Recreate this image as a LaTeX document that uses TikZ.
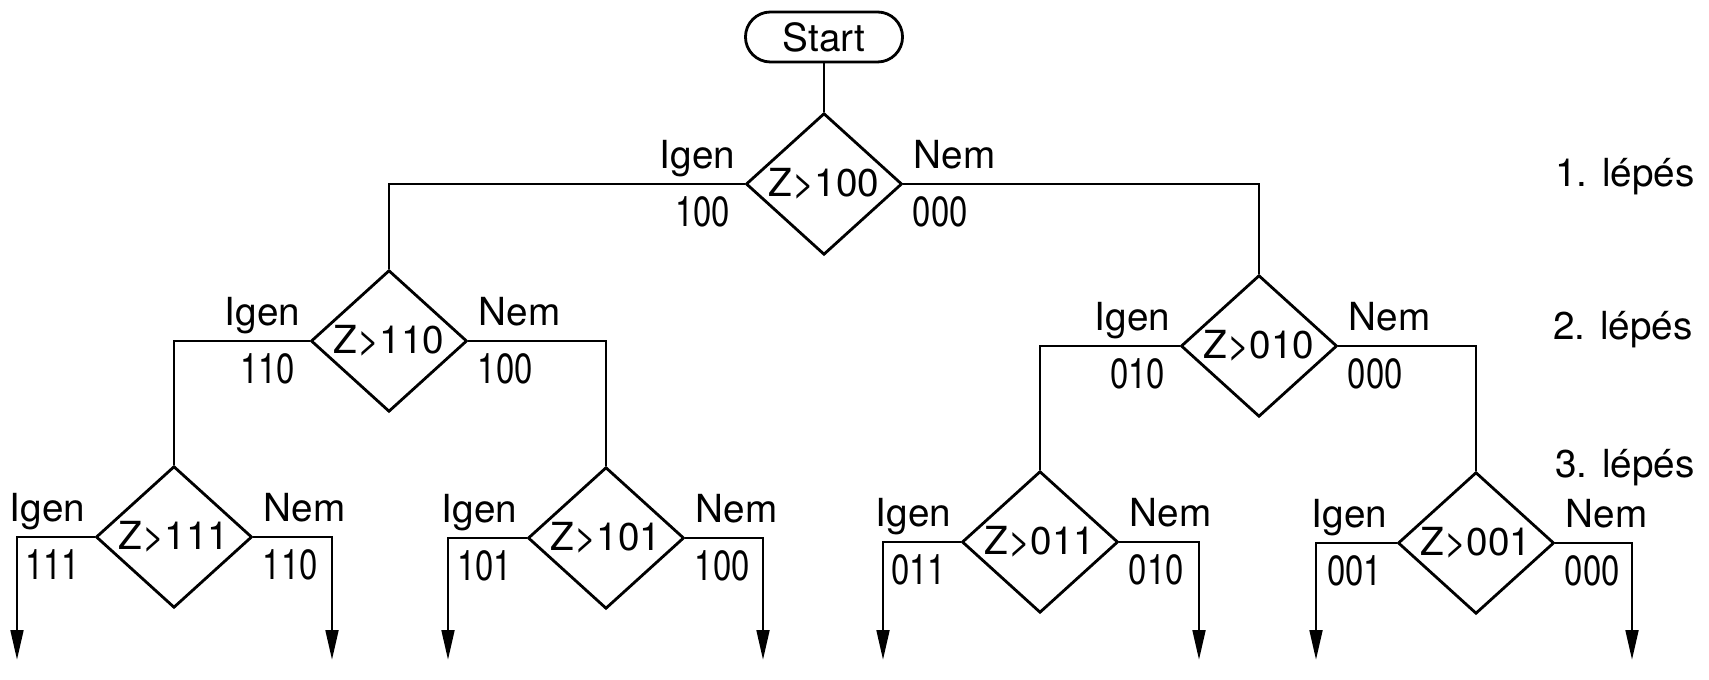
\documentclass[tikz,border=0pt]{standalone}
\usepackage{fontspec}
\setmainfont{TeX Gyre Heros}
\newfontfamily\codefont[FakeStretch=0.78]{TeX Gyre Heros}
\usetikzlibrary{shapes.geometric, arrows.meta}

\begin{document}
\begin{tikzpicture}[x=0.01cm, y=-0.01cm, line width=0.8pt,
        font=\fontsize{11}{13}\selectfont,
        test/.style={diamond, draw, inner sep=0pt, minimum width=1.56cm, minimum height=1.22cm},
        igen/.style={anchor=base east, inner sep=0pt, xshift=-0.08cm, yshift=0.15cm},
        nem/.style={anchor=base west, inner sep=0pt, xshift=0.09cm, yshift=0.15cm},
        codeL/.style={anchor=north east, inner sep=0pt, xshift=-0.13cm, yshift=-0.11cm,
            font=\codefont\fontsize{12}{14}\selectfont},
        codeR/.style={anchor=north west, inner sep=0pt, xshift=0.08cm, yshift=-0.11cm,
            font=\codefont\fontsize{12}{14}\selectfont},
        exitarrow/.style={-{Triangle[length=8.5pt, width=3.6pt]}}]
    \useasboundingbox (0,0) rectangle (1709,680);

    %nodes
    \node[draw, rounded corners=0.25cm, minimum width=1.57cm, minimum height=0.5cm, inner sep=0pt] (start) at (824,37) {Start};
    \node[test] (d1) at (824,184) {Z>100};
    \node[test] (d2l) at (389,341) {Z>110};
    \node[test] (d2r) at (1259,346) {Z>010};
    \node[test] (d3a) at (174,537) {Z>111};
    \node[test] (d3b) at (606,538) {Z>101};
    \node[test] (d3c) at (1040,542) {Z>011};
    \node[test] (d3d) at (1476,543) {Z>001};

    %ends
    \coordinate (e1) at (17,660);
    \coordinate (e2) at (332,660);
    \coordinate (e3) at (448,660);
    \coordinate (e4) at (763,660);
    \coordinate (e5) at (883,660);
    \coordinate (e6) at (1199,660);
    \coordinate (e7) at (1316,660);
    \coordinate (e8) at (1632,660);

    %edges
    \draw (start) -- (d1);
    \draw (d1.west) -| (d2l.north);
    \draw (d1.east) -| (d2r.north);
    \draw (d2l.west) -| (d3a.north);
    \draw (d2l.east) -| (d3b.north);
    \draw (d2r.west) -| (d3c.north);
    \draw (d2r.east) -| (d3d.north);
    \draw[exitarrow] (d3a.west) -| (e1);
    \draw[exitarrow] (d3a.east) -| (e2);
    \draw[exitarrow] (d3b.west) -| (e3);
    \draw[exitarrow] (d3b.east) -| (e4);
    \draw[exitarrow] (d3c.west) -| (e5);
    \draw[exitarrow] (d3c.east) -| (e6);
    \draw[exitarrow] (d3d.west) -| (e7);
    \draw[exitarrow] (d3d.east) -| (e8);

    %labels
    \node[igen] (y1) at (d1.west) {Igen};
    \node[nem] (n1) at (d1.east) {Nem};
    \node[codeL] (c1a) at (d1.west) {100};
    \node[codeR] (c1b) at (d1.east) {000};

    \node[igen] (y2l) at (d2l.west) {Igen};
    \node[nem] (n2l) at (d2l.east) {Nem};
    \node[codeL] (c2a) at (d2l.west) {110};
    \node[codeR] (c2b) at (d2l.east) {100};

    \node[igen] (y2r) at (d2r.west) {Igen};
    \node[nem] (n2r) at (d2r.east) {Nem};
    \node[codeL] (c2c) at (d2r.west) {010};
    \node[codeR] (c2d) at (d2r.east) {000};

    \node[igen] (y3a) at (d3a.west) {Igen};
    \node[nem] (n3a) at (d3a.east) {Nem};
    \node[codeL] (c3a) at (d3a.west) {111};
    \node[codeR] (c3b) at (d3a.east) {110};

    \node[igen] (y3b) at (d3b.west) {Igen};
    \node[nem] (n3b) at (d3b.east) {Nem};
    \node[codeL] (c3c) at (d3b.west) {101};
    \node[codeR] (c3d) at (d3b.east) {100};

    \node[igen] (y3c) at (d3c.west) {Igen};
    \node[nem] (n3c) at (d3c.east) {Nem};
    \node[codeL] (c3e) at (d3c.west) {011};
    \node[codeR] (c3f) at (d3c.east) {010};

    \node[igen] (y3d) at (d3d.west) {Igen};
    \node[nem] (n3d) at (d3d.east) {Nem};
    \node[codeL] (c3g) at (d3d.west) {001};
    \node[codeR] (c3h) at (d3d.east) {000};

    %steps
    \node[anchor=west, inner sep=0pt] (s1) at (1554,177) {1. lépés};
    \node[anchor=west, inner sep=0pt] (s2) at (1552,330) {2. lépés};
    \node[anchor=west, inner sep=0pt] (s3) at (1554,468) {3. lépés};
\end{tikzpicture}
\end{document}
